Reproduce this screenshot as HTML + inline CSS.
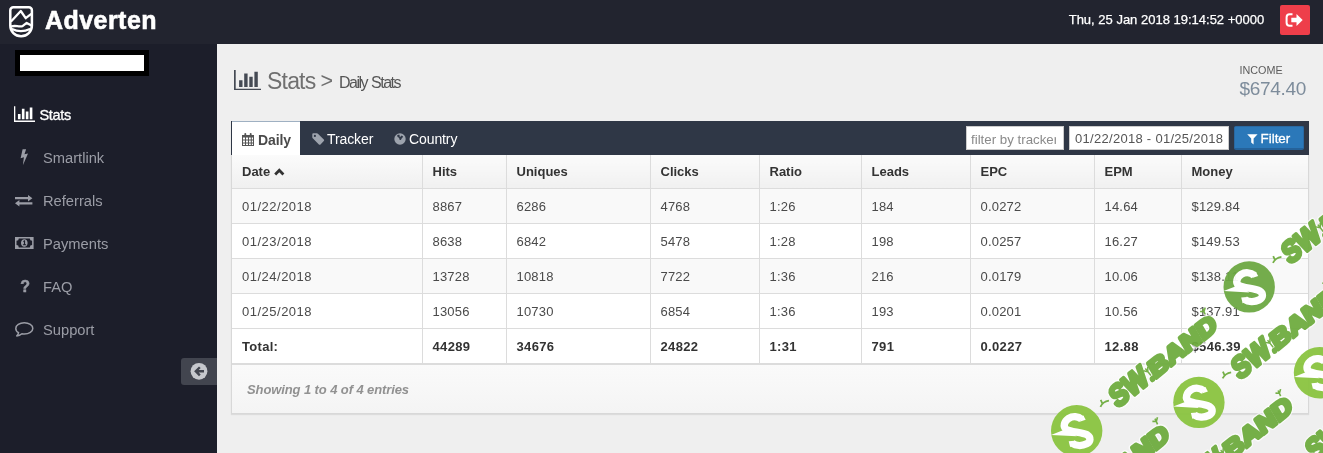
<!DOCTYPE html>
<html>
<head>
<meta charset="utf-8">
<title>Adverten</title>
<style>
*{box-sizing:border-box;margin:0;padding:0}
html,body{width:1323px;height:453px;overflow:hidden}
body{position:relative;will-change:transform;background:#efefef;font-family:"Liberation Sans",sans-serif;color:#333}
#top{position:absolute;left:0;top:0;width:1323px;height:44px;background:#22242f}
#side{position:absolute;left:0;top:44px;width:217px;height:409px;background:#1c1e2a}
#logo{position:absolute;left:0;top:0}
#brand{position:absolute;left:45px;top:6px;font-size:25px;font-weight:bold;color:#fff;line-height:28px;letter-spacing:0.45px;-webkit-text-stroke:0.6px #fff}
#clock{position:absolute;left:1068.700px;top:11.500px;font-size:13px;color:#fff;line-height:16px;white-space:nowrap;-webkit-text-stroke:0.25px #fff}
#logout{position:absolute;left:1280px;top:5px;width:30px;height:30px;background:#ee3e4a;border-radius:2px}
#redact{position:absolute;left:15px;top:50px;width:134px;height:26px;background:#000}
#redact i{position:absolute;left:5px;top:5px;width:124px;height:16px;background:#fff}
.nav{position:absolute;left:0;width:217px;height:20px;color:#9b9da6;font-size:14.7px;line-height:20px}
.nav span{position:absolute;left:43px;top:0}
.nav svg{position:absolute}
.nav.act{color:#fff}
.nav.act span{left:39.5px;font-size:14.5px;letter-spacing:-0.35px;-webkit-text-stroke:0.3px #fff}
#collapse{position:absolute;left:181px;top:357px;width:36px;height:27px;background:#42454f;border-radius:3px 0 0 3px}
#h1{position:absolute;left:233px;top:66px;height:28px;color:#555;white-space:nowrap}
#h1 .t{position:absolute;left:34px;top:1px;font-size:23px;line-height:28px;color:#707070;letter-spacing:-0.8px}
#h1 .gt{position:absolute;left:87.5px;top:1px;font-size:21.5px;line-height:28px;color:#707070}
#h1 .s{position:absolute;left:106px;top:5px;font-size:16px;line-height:24px;color:#555;letter-spacing:-1.5px;word-spacing:1px}
#inc1{position:absolute;left:1239.500px;top:64px;font-size:10.800px;line-height:13px;color:#5c5c5c}
#inc2{position:absolute;left:1239.500px;top:77.500px;font-size:19px;line-height:21px;color:#7d8c9b;letter-spacing:-0.3px}
#panel{position:absolute;left:231px;top:121px;width:1078px;height:293px;background:#f7f7f7;border:1px solid #d8d8d8;border-top:none;box-shadow:0 1px 1px rgba(0,0,0,.08)}
#tabs{position:absolute;left:231px;top:121px;width:1078px;height:34px;background:#2f3746}
#tabd{position:absolute;left:1px;top:0;width:68px;height:34px;background:#fff;border-top:1px solid #9fb0c2}
.tab{position:absolute;top:10px;letter-spacing:-0.1px;font-size:14px;line-height:17px;color:#fff;white-space:nowrap}
#flt1{position:absolute;left:735px;top:5px;width:98px;height:24px;background:#fff;border:1px solid #ccc}#flt1 span{position:absolute;left:4px;top:2.500px;width:84.500px;height:20px;overflow:hidden;white-space:nowrap;font-size:13.300px;line-height:20px;color:#8a8a8a}
#flt2{position:absolute;left:838px;top:5px;width:160px;height:24px;background:#fff;border:1px solid #ccc;font-size:13px;letter-spacing:.29px;line-height:22px;color:#555;padding-left:5px;padding-top:1px;white-space:nowrap}
#flt3{position:absolute;left:1003px;top:5px;width:70px;height:24px;background:#2b78b9;border:1px solid #2969a3;border-bottom:2px solid #25629a;border-radius:2px;color:#fff;font-size:13.400px;line-height:26.500px}
#flt3 span{position:absolute;left:25.500px;top:-1px;-webkit-text-stroke:0.3px #fff}
#chev{position:absolute;left:274px;top:167.500px}table{position:absolute;left:232px;top:155px;width:1076px;border-collapse:collapse;table-layout:fixed;font-size:13px;color:#4a4a4a}
td{padding-top:2px!important;letter-spacing:.2px}td:first-child{letter-spacing:.5px}tr.tot td{letter-spacing:.35px}tr.tot td:first-child{letter-spacing:.3px}td,th{height:35px;padding:0 0 0 10px;text-align:left;vertical-align:middle;border-left:1px solid #dcdcdc;border-top:1px solid #dcdcdc;font-weight:normal}
td:first-child,th:first-child{border-left:none}
th{height:33px;font-weight:bold;color:#333;border-top:none;background:linear-gradient(#fbfbfb,#f0f0f0)}
tr.o td{background:#f9f9f9}
tr.e td{background:#fff}
tr.tot td{font-weight:bold;background:#fff;color:#333}
#foot{position:absolute;left:232px;top:363px;width:1076px;height:50px;border-top:2px solid #dcdcdc;background:linear-gradient(#fafafa,#f4f4f4)}
#foot span{position:absolute;left:15px;top:17px;font-size:13px;font-weight:bold;font-style:italic;color:#919191;line-height:16px;letter-spacing:-.1px}
</style>
</head>
<body>
<div id="top">
  <svg id="logo" width="44" height="44" viewBox="0 0 44 44"><g fill="none" stroke="#fff" stroke-linejoin="round" stroke-linecap="round"><path d="M13.300 7.300H28.900a3 3 0 0 1 3 3V25.500c0 6-4.600 10.800-10.800 10.800S10.300 31.500 10.300 25.500V10.300a3 3 0 0 1 3-3z" stroke-width="2.500"/><path d="M11.500 21L20.800 11l4.900 7.200L31 14.200" stroke-width="2.300"/><path d="M11.500 26.400c3.500-1.300 7.500.700 11 -.300l4.200-3.200 4.300 2.300" stroke-width="2.300"/><path d="M12.600 29.300c4.500 2.400 12 2.400 16.800 0" stroke-width="2.300"/></g></svg>
  <div id="brand">Adverten</div>
  <div id="clock">Thu, 25 Jan 2018 19:14:52 +0000</div>
  <div id="logout"><svg width="30" height="30" viewBox="0 0 30 30" style="position:absolute;left:0;top:0"><path d="M12.500 9.200H9.600a3 3 0 0 0-3 3v5.600a3 3 0 0 0 3 3h2.900" fill="none" stroke="#fff" stroke-width="2"/><path d="M11.300 12.700h5.200V9l6.200 6-6.200 6v-3.700h-5.200z" fill="#fff"/></svg></div>
</div>
<div id="side">
  <div id="redact" style="top:6px"><i></i></div>
  <div class="nav act" style="top:61px"><svg width="21" height="16" viewBox="0 128 2048 1536" style="left:13.800px;top:1px"><path d="M640 896v512h-256v-512zM1024 384v1024h-256v-1024zM2048 1536v128h-2048v-1536h128v1408zM1408 640v768h-256v-768zM1792 256v1152h-256v-1152z" fill="#fff"/></svg><span>Stats</span></div>
  <div class="nav" style="top:104px"><svg width="9" height="17" viewBox="0 0 9 17" style="left:20px;top:1px"><path d="M2.600 .300H6.100L4.500 5.300 8 4.400 2.900 16.300 3.900 8.300.600 9.200z" fill="#9b9da6"/></svg><span>Smartlink</span></div>
  <div class="nav" style="top:147px"><svg width="18" height="12" viewBox="0 0 18 12" style="left:15px;top:4px"><path d="M0 2.100h13V0l4.400 3.200L13 6.400V4.300H0zM17.400 7.200H4.400V5.100L0 8.300l4.400 3.200V9.400h13z" fill="#9b9da6"/></svg><span>Referrals</span></div>
  <div class="nav" style="top:190px"><svg width="19" height="12" viewBox="0 0 19 12" style="left:14.500px;top:3px"><path fill-rule="evenodd" d="M0 0h18.600v11.900H0zM3.800 1.500a2.300 2.300 0 0 1-2.300 2.300v4.300a2.300 2.300 0 0 1 2.300 2.300h11a2.300 2.300 0 0 1 2.300-2.300V3.800a2.300 2.300 0 0 1-2.300-2.300zM9.300 2.200c2 0 3.300 1.700 3.300 3.750S11.300 9.700 9.300 9.700 6 8 6 5.950 7.300 2.200 9.300 2.200zM8.100 4.200l1.100-.9h.9v4h1v.9H7.900v-.9h1V4.500l-.8.600z" fill="#9b9da6"/></svg><span>Payments</span></div>
  <div class="nav" style="top:233px"><b style="position:absolute;left:20.300px;top:0;font-size:16px;line-height:20px;color:#9b9da6;-webkit-text-stroke:0.5px #9b9da6">?</b><span>FAQ</span></div>
  <div class="nav" style="top:276px"><svg width="19" height="15" viewBox="0 0 19 15" style="left:14.500px;top:2px"><path d="M9.300 .800c4.700 0 8.500 2.500 8.500 5.600s-3.800 5.600-8.500 5.600c-.800 0-1.600-.100-2.400-.200C5.500 13 3.600 13.800 1.800 13.900c.900-.900 1.600-1.900 1.800-3.200C1.900 9.700.800 8.100.800 6.400.800 3.300 4.600.800 9.300.800z" fill="none" stroke="#9b9da6" stroke-width="1.500" stroke-linejoin="round"/></svg><span>Support</span></div>
  <div id="collapse" style="top:314px"><svg width="36" height="28" viewBox="0 0 36 28" style="position:absolute;left:0;top:0"><circle cx="18" cy="13.300" r="8.400" fill="#c6c8cd"/><path d="M23 12.100h-5.300l2-2-1.700-1.700-4.900 4.900 4.900 4.900 1.700-1.700-2-2H23z" fill="#42454f"/></svg></div>
</div>
<div id="h1"><svg width="27.200" height="20.400" viewBox="0 128 2048 1536" style="position:absolute;left:.500px;top:4px"><path d="M640 896v512h-256v-512zM1024 384v1024h-256v-1024zM2048 1536v128h-2048v-1536h128v1408zM1408 640v768h-256v-768zM1792 256v1152h-256v-1152z" fill="#454a54"/></svg><span class="t">Stats</span><span class="gt">&gt;</span><span class="s">Daily Stats</span></div>
<div id="inc1">INCOME</div>
<div id="inc2">$674.40</div>
<div id="panel"></div>
<div id="tabs">
  <div id="tabd"></div><svg width="12" height="13" viewBox="0 0 12 13" style="position:absolute;left:11px;top:12px"><path fill-rule="evenodd" d="M0 2h12v11H0zM1 4.500v2h2v-2zM4 4.500v2h2v-2zM7 4.500v2h1.800v-2zM9.800 4.500v2H11v-2zM1 7.500v2h2v-2zM4 7.500v2h2v-2zM7 7.500v2h1.800v-2zM9.800 7.500v2H11v-2zM1 10.500v1.500h2v-1.500zM4 10.500v1.500h2v-1.500zM7 10.500v1.500h1.800v-1.500zM9.800 10.500v1.500H11v-1.500z" fill="#555"/><rect x="2.400" y="0" width="1.800" height="3.400" rx=".800" fill="#555"/><rect x="7.800" y="0" width="1.800" height="3.400" rx=".800" fill="#555"/></svg><svg width="13" height="12" viewBox="0 0 13 12" style="position:absolute;left:80.500px;top:11.500px"><path fill-rule="evenodd" d="M.300 1.300A1 1 0 0 1 1.300 .300H4.800c.500 0 1 .200 1.400.600l5.600 5.600c.500.500.500 1.100 0 1.600L8.500 11.400c-.500.500-1.100.500-1.600 0L1 5.600C.600 5.200.300 4.700.300 4.200zM2.900 1.800a1.100 1.100 0 1 0 0 2.200 1.100 1.100 0 0 0 0-2.200z" fill="#9da3ad"/></svg><svg width="12" height="12" viewBox="0 0 12 12" style="position:absolute;left:162.800px;top:11.500px"><circle cx="6" cy="6" r="5.700" fill="#9da3ad"/><path d="M3.200 2.200c1-.600 2-.600 2.600-.300l-.500 1.300 1.300.600 1-1.300 1.500 1c-.300 1-1.200 1.300-1.600 2.300-.300.900-.900 1.500-1.700 1.200-.500-.900-.300-1.700-1-2.300-.800-.500-1.700-1-1.600-2.500z" fill="#2f3746"/></svg>
  <div class="tab" style="left:27px;top:10.500px;color:#4a4a4a;font-weight:bold">Daily</div>
  <div class="tab" style="left:96px">Tracker</div>
  <div class="tab" style="left:178px">Country</div>
  <div id="flt1"><span>filter by tracker</span></div>
  <div id="flt2">01/22/2018 - 01/25/2018</div>
  <div id="flt3"><svg width="11" height="11" viewBox="0 0 11 11" style="position:absolute;left:11.800px;top:7px"><path d="M.200 .200h10.400L6.600 4.600v6L4.200 8.600v-4z" fill="#fff"/></svg><span>Filter</span></div>
</div>
<table>
<colgroup><col style="width:190px"><col style="width:84px"><col style="width:144px"><col style="width:109px"><col style="width:102px"><col style="width:109px"><col style="width:124px"><col style="width:87px"><col style="width:127px"></colgroup>
<tr><th>Date</th><th>Hits</th><th>Uniques</th><th>Clicks</th><th>Ratio</th><th>Leads</th><th>EPC</th><th>EPM</th><th>Money</th></tr>
<tr class="o"><td>01/22/2018</td><td>8867</td><td>6286</td><td>4768</td><td>1:26</td><td>184</td><td>0.0272</td><td>14.64</td><td>$129.84</td></tr>
<tr class="e"><td>01/23/2018</td><td>8638</td><td>6842</td><td>5478</td><td>1:28</td><td>198</td><td>0.0257</td><td>16.27</td><td>$149.53</td></tr>
<tr class="o"><td>01/24/2018</td><td>13728</td><td>10818</td><td>7722</td><td>1:36</td><td>216</td><td>0.0179</td><td>10.06</td><td>$138.11</td></tr>
<tr class="e"><td>01/25/2018</td><td>13056</td><td>10730</td><td>6854</td><td>1:36</td><td>193</td><td>0.0201</td><td>10.56</td><td>$137.91</td></tr>
<tr class="tot"><td>Total:</td><td>44289</td><td>34676</td><td>24822</td><td>1:31</td><td>791</td><td>0.0227</td><td>12.88</td><td>$546.39</td></tr>
</table>
<svg width="11" height="8" viewBox="0 0 11 8" id="chev"><path d="M1.200 6.400L5.300 2.300l4.100 4.100" fill="none" stroke="#333" stroke-width="2.800"/></svg>
<div id="foot"><span>Showing 1 to 4 of 4 entries</span></div>
<svg id="wm" width="1323" height="453" viewBox="0 0 1323 453" style="position:absolute;left:0;top:0;pointer-events:none;opacity:.94">
<defs>
<g id="wc">
  <circle cx="0" cy="0" r="25.700"/>
  <path d="M5 -11.500C1.500 -14.500 -4 -15 -8 -12.500C-12.500 -9.500 -14 -4 -10.500 -1.500C-6 1.500 5 1 10.500 4C14.500 6.500 14 11 10 13C5 15.500 -1 15 -4.500 12.500" fill="none" stroke="#fff" stroke-width="7.400"/>
  <path d="M-25.600 4.200L-10 -2L0 5.500z" fill="#fff"/>
  <path d="M6.500 -15.500L9 -11L3 -9z" fill="#fff"/>
  <path d="M-6.500 16.500L-8 10.500L-2 10z" fill="#fff"/>
</g>
<g id="wt" font-family="Liberation Sans, sans-serif" font-weight="bold">
  <g transform="translate(0 8.100) skewX(-8)">
  <g opacity=".72"><text x="45.500" y="0" font-size="29.500" textLength="42.500" lengthAdjust="spacingAndGlyphs" fill="#fff" stroke="#fff" stroke-width="6" stroke-linejoin="round">SW</text><circle cx="91.500" cy="-1.500" r="1.300" fill="#fff" stroke="#fff" stroke-width="6" stroke-linejoin="round"/><text x="93.500" y="0" font-size="24.500" textLength="81.500" lengthAdjust="spacingAndGlyphs" fill="#fff" stroke="#fff" stroke-width="6" stroke-linejoin="round">BAND</text></g>
  <text x="45.500" y="0" font-size="29.500" textLength="42.500" lengthAdjust="spacingAndGlyphs" fill="#6eac3e" stroke="#6eac3e" stroke-width="3.600" stroke-linejoin="round">SW</text><circle cx="91.500" cy="-1.500" r="1.300" fill="#6eac3e" stroke="#6eac3e" stroke-width="3.600" stroke-linejoin="round"/><text x="93.500" y="0" font-size="24.500" textLength="81.500" lengthAdjust="spacingAndGlyphs" fill="#6eac3e" stroke="#6eac3e" stroke-width="3.600" stroke-linejoin="round">BAND</text>
  </g>
  <path d="M33.500 -4c3 -1.500 7 -1.500 10.500 .500M37 -5.200l1 -4" fill="none" stroke="#6eac3e" stroke-width="1.800"/>
  <path d="M92.500 3v-9M92.500 -2l3 -4M92.500 -2l-3 -3.500" fill="none" stroke="#6eac3e" stroke-width="1.500"/>
  <path d="M173 -11l1.500 -6M173.800 -14l3.500 -2.500M173.800 -14l-3 -2.500" fill="none" stroke="#6eac3e" stroke-width="1.600"/>
</g>
</defs>
<use href="#wc" fill="#8ac43f" transform="translate(1076.7 430.8)"/>
<use href="#wc" fill="#6ca842" transform="translate(1249.2 286.9)"/>
<use href="#wc" fill="#8ac43f" transform="translate(1198.9 402.4)"/>
<use href="#wc" fill="#8ac43f" transform="translate(1319.5 372.8)"/>
<use href="#wt" transform="translate(1076.7 430.8) rotate(-38.5)"/>
<use href="#wt" transform="translate(1249.2 286.9) rotate(-38.5)"/>
<use href="#wt" transform="translate(1198.9 402.4) rotate(-38.5)"/>
<use href="#wt" transform="translate(1029.0 540.6) rotate(-38.5)"/>
<use href="#wt" transform="translate(1152.1 512.4) rotate(-38.5)"/>
<use href="#wt" transform="translate(1273.0 484.2) rotate(-38.5)"/>
</svg>
</body>
</html>
